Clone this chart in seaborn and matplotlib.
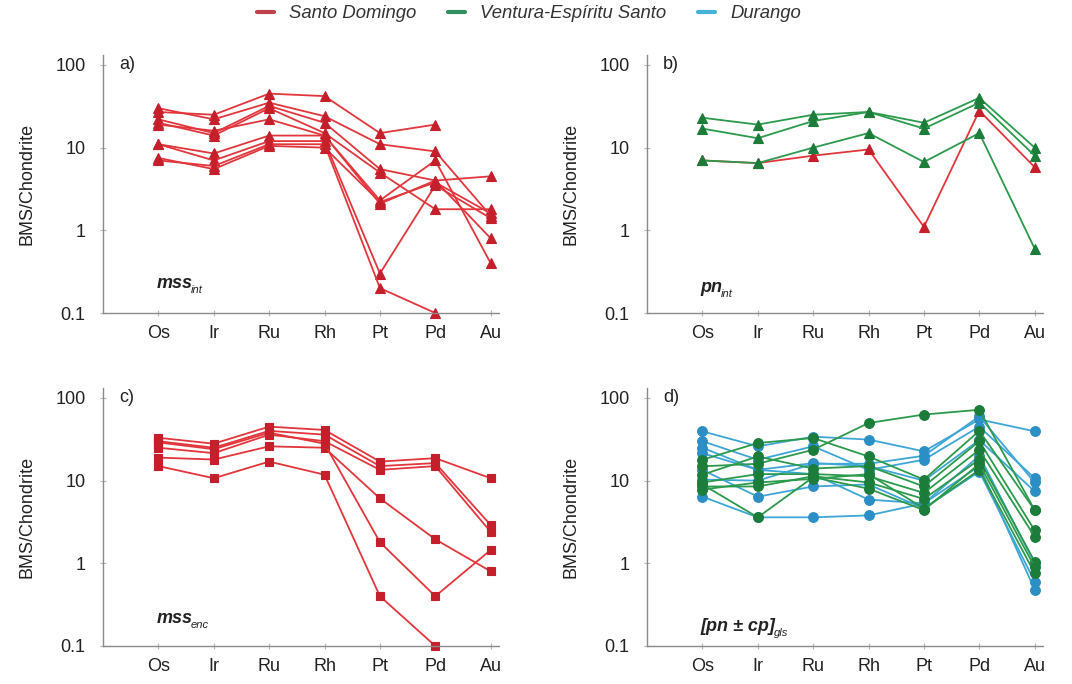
import numpy as np
import pandas as pd
import matplotlib
matplotlib.use("Agg")
import matplotlib.pyplot as plt
from matplotlib.lines import Line2D
import seaborn as sns

elements = ["Os", "Ir", "Ru", "Rh", "Pt", "Pd", "Au"]
nan = np.nan

# a) mss_int - Santo Domingo (triangles)
a_santo = [
    [27, 25, 45, 42, 15, 19, nan],
    [30, 22, 35, 24, 11, 9, 1.5],
    [22, 15, 32, 20, 5.5, 4, 0.8],
    [20, 14, 30, 15, 5, 1.8, 1.8],
    [19, 16, 22, 14, 2.3, 7, 0.4],
    [11, 8.5, 14, 14, 2.1, 4, 4.5],
    [11, 7, 12, 12, 0.3, 3.5, 1.4],
    [7, 6, 11, 11, 0.2, 0.1, nan],
    [7.5, 5.5, 10.5, 10, 2.2, 3.8, 1.6],
]
# b) pn_int
b_santo = [
    [7, 6.5, 8, 9.5, 1.1, 28, 5.8],
]
b_ventura = [
    [23, 19, 25, 27, 20, 40, 10],
    [17, 13, 21, 27, 17, 35, 8],
    [7, 6.5, 10, 15, 6.7, 15, 0.6],
]
# c) mss_enc - Santo Domingo (squares)
c_santo = [
    [33, 28, 45, 41, 17, 18.7, 10.7],
    [30, 25, 40, 36, 15, 16.3, 2.9],
    [25, 21.5, 36, 30, 13.5, 15, 2.4],
    [19, 18, 26, 25, 6.1, 1.95, 0.8],
    [29, 24, 38, 28, 1.8, 0.4, 1.45],
    [15, 10.7, 17, 11.8, 0.4, 0.1, nan],
]
# d) [pn ± cp]_gls (circles)
d_durango = [
    [39.5, 26, 34, 31.4, 22.6, 55, 39.5],
    [30, 17.9, 26, 13.5, 17.9, 45, 10.7],
    [25, 13.5, 16.3, 15, 10, 31, 7.4],
    [21.5, 13.5, 12, 5.9, 5.3, 15, 0.48],
    [13.5, 6.4, 8.5, 9, 4.6, 12.9, 0.6],
    [6.4, 3.6, 3.6, 3.8, 5.3, 20, 1.0],
    [10.3, 10, 16, 16, 20, 60, 9.5],
]
d_ventura = [
    [14.9, 16, 23.6, 49.8, 63, 72, 4.4],
    [17.9, 28.5, 32.8, 19.6, 10.3, 40, 4.4],
    [11.8, 19.6, 14, 15, 8.5, 30, 2.5],
    [9.5, 12, 12, 11.3, 7.1, 23.6, 2.1],
    [8.5, 8.5, 11.3, 9.5, 6, 18, 1.05],
    [7.8, 9.5, 10.5, 12, 4.6, 13.5, 0.76],
    [9, 3.6, 11, 8, 4.4, 16, 0.9],
]

legend_labels = ["Santo Domingo", "Ventura-Espíritu Santo", "Durango"]
panel_letters = ["a)", "b)", "c)", "d)"]
panel_texts = [("mss", "int"), ("pn", "int"), ("mss", "enc"), ("[pn ± cp]", "gls")]
yticks = [0.1, 1, 10, 100]
ytick_labels = ["0.1", "1", "10", "100"]

colors = {
    "Santo Domingo": ("#e2363c", "#c41f2a"),
    "Ventura-Espíritu Santo": ("#2c9a4c", "#1c7c3a"),
    "Durango": ("#3ea6d6", "#2b8ec4"),
}
legend_colors = ["#c0404c", "#2f8f5f", "#45b2da"]

sns.set_theme(style="white")
plt.rcParams["font.family"] = ["Liberation Sans", "DejaVu Sans"]

def to_long(rows, group):
    recs = []
    for i, r in enumerate(rows):
        for j, v in enumerate(r):
            if not np.isnan(v):
                recs.append({"sample": f"{group}-{i}", "pos": j, "val": v, "group": group})
    return pd.DataFrame(recs)

fig = plt.figure(figsize=(10.72, 6.84), dpi=100)
W, H = 1072, 684
ax_h = 258
boxes = [(103, 313), (647, 313), (103, 646), (647, 646)]
axes = []
for (lx, by) in boxes:
    ax = fig.add_axes([lx / W, (H - by) / H, 396 / W, ax_h / H])
    axes.append(ax)

panels = [
    [(a_santo, "Santo Domingo", "^", 6.5)],
    [(b_santo, "Santo Domingo", "^", 6.5), (b_ventura, "Ventura-Espíritu Santo", "^", 6.5)],
    [(c_santo, "Santo Domingo", "s", 5.5)],
    [(d_durango, "Durango", "o", 7), (d_ventura, "Ventura-Espíritu Santo", "o", 7)],
]

for k, (ax, groups) in enumerate(zip(axes, panels)):
    for rows, group, mk, ms in groups:
        df = to_long(rows, group)
        lc, mc = colors[group]
        sns.lineplot(data=df, x="pos", y="val", units="sample", estimator=None,
                     color=lc, marker=mk, markersize=ms, markerfacecolor=mc,
                     markeredgecolor=mc, markeredgewidth=0.8, linewidth=1.3,
                     legend=False, ax=ax, sort=False, clip_on=False)
    ax.set_yscale("log")
    ax.set_ylim(0.1, 132)
    ax.set_xlim(-1.0, 6.15)
    ax.set_xticks(range(len(elements)))
    ax.set_xticklabels(elements)
    ax.set_yticks(yticks)
    ax.set_yticklabels(ytick_labels)
    ax.minorticks_off()
    ax.yaxis.set_minor_locator(matplotlib.ticker.NullLocator())
    ax.set_xlabel("")
    ax.set_ylabel("BMS/Chondrite", fontsize=13, color="#222222", labelpad=14)
    for s in ["top", "right"]:
        ax.spines[s].set_visible(False)
    for s in ["left", "bottom"]:
        ax.spines[s].set_color("#8a8a8a")
        ax.spines[s].set_linewidth(1.0)
    ax.tick_params(axis="both", which="major", direction="inout", length=5,
                   width=0.8, color="#b5b5b5", labelsize=13, labelcolor="#222222",
                   left=True, bottom=True)
    ax.tick_params(axis="y", pad=10)
    ax.tick_params(axis="x", pad=6)
    ax.text(0.04, 0.965, panel_letters[k], transform=ax.transAxes, fontsize=13,
            color="#222222", va="center", ha="left")
    main, sub = panel_texts[k]
    ypos = [0.115, 0.097, 0.108, 0.074][k]
    t = ax.text(0.135, ypos, main, transform=ax.transAxes, fontsize=13,
                fontweight="bold", fontstyle="italic", color="#222222",
                va="center", ha="left")
    ax.annotate(sub, xy=(1.0, 0.12), xycoords=t, fontsize=8, fontstyle="italic",
                color="#222222", va="center", ha="left", xytext=(-1, 0),
                textcoords="offset points")

handles = [Line2D([0], [0], color=c, lw=3) for c in legend_colors]
leg = fig.legend(handles, legend_labels, loc="center", bbox_to_anchor=(0.4935, 0.98),
                 ncol=3, frameon=False, handlelength=0.9, columnspacing=1.7,
                 handletextpad=0.85, prop={"size": 13.3, "style": "italic"})
for txt in leg.get_texts():
    txt.set_color("#333333")

fig.savefig("out.png", dpi=100)
